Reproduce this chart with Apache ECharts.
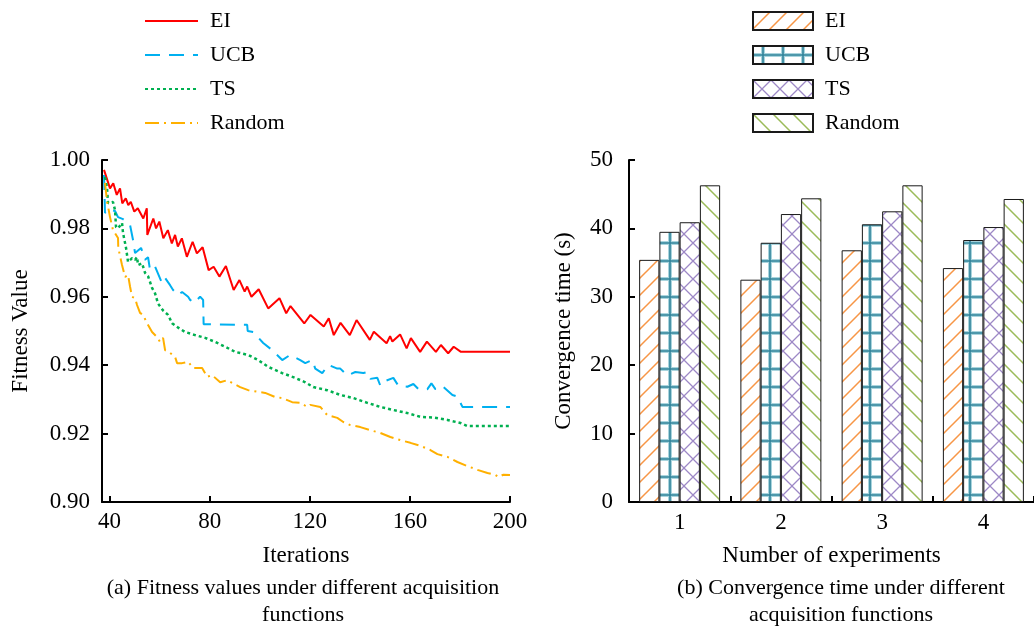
<!DOCTYPE html>
<html>
<head>
<meta charset="utf-8">
<script src="https://cdn.jsdelivr.net/npm/echarts@6/dist/echarts.min.js"></script>
<style>
  html, body { margin: 0; padding: 0; background: #fff; }
  #main { width: 1034px; height: 628px; }
</style>
</head>
<body>
<div id="main"></div>
<script type="text/javascript">
    // (a) fitness value vs iteration, pairs of [iteration, fitness]
    var eiData = [[37.8,0.9971],[40.2,0.9917],[41.5,0.9932],[42.9,0.9898],[44.2,0.9917],[45.1,0.9873],[46.5,0.9888],
        [47.5,0.9868],[48.5,0.9878],[49.9,0.9849],[51.3,0.9859],[53.5,0.9829],[54.9,0.9859],[55.1,0.9781],[57.5,0.9829],
        [58.6,0.9800],[59.9,0.9820],[61.5,0.9771],[63.3,0.9795],[64.9,0.9756],[66.2,0.9781],[67.3,0.9747],[68.9,0.9771],
        [70.9,0.9717],[73.2,0.9761],[74.9,0.9727],[77.2,0.9745],[79.6,0.9678],[81.6,0.9688],[83.9,0.9659],[86.5,0.9690],
        [89.6,0.9620],[91.9,0.9649],[94.0,0.9615],[95.0,0.9630],[96.7,0.9600],[99.6,0.9622],[103.4,0.9566],[107.9,0.9596],
        [110.6,0.9552],[112.3,0.9573],[117.8,0.9522],[120.3,0.9547],[125.6,0.9513],[127.6,0.9537],[129.6,0.9488],
        [132.3,0.9524],[136.0,0.9488],[138.7,0.9532],[144.0,0.9474],[145.6,0.9498],[150.7,0.9464],[152.1,0.9485],
        [153.0,0.9469],[156.1,0.9490],[158.7,0.9449],[160.4,0.9479],[164.1,0.9439],[166.8,0.9469],[170.4,0.9439],
        [172.4,0.9459],[175.3,0.9435],[177.5,0.9454],[180.4,0.9439],[200,0.9439]];
    var ucbData = [[37.8,0.9956],[38.2,0.9845],[39.4,0.9856],[42.2,0.9851],[43.4,0.9833],[45.4,0.9827],[47.0,0.9819],
        [48.2,0.9810],[49.4,0.9766],[50.2,0.9728],[52.6,0.9743],[54.2,0.9708],[55.4,0.9716],[56.2,0.9678],[58.2,0.9688],
        [61.0,0.9640],[62.2,0.9655],[64.2,0.9634],[65.4,0.9620],[67.4,0.9605],[69.0,0.9614],[71.4,0.9600],[72.2,0.9591],
        [73.8,0.9582],[76.2,0.9600],[77.4,0.9591],[77.6,0.9520],[95.0,0.9518],[95.2,0.9500],[97.4,0.9497],[101.4,0.9465],
        [105.0,0.9444],[109.0,0.9415],[112.2,0.9430],[116.2,0.9415],[118.2,0.9406],[121.0,0.9415],[122.2,0.9390],
        [125.0,0.9377],[127.4,0.9401],[131.0,0.9390],[132.2,0.9390],[135.0,0.9370],[138.2,0.9380],[141.4,0.9377],
        [143.0,0.9380],[144.2,0.9360],[147.0,0.9363],[148.2,0.9340],[150.2,0.9354],[153.4,0.9363],[155.4,0.9340],
        [159.0,0.9337],[161.4,0.9345],[163.4,0.9330],[167.0,0.9330],[168.6,0.9347],[170.2,0.9330],[173.0,0.9339],
        [177.0,0.9313],[179.0,0.9308],[181.0,0.9278],[200,0.9278]];
    var tsData = [[38.2,0.9950],[39.0,0.9920],[39.4,0.9874],[41.4,0.9877],[42.2,0.9854],[42.6,0.9804],[43.4,0.9800],
        [45.0,0.9816],[45.4,0.9787],[46.6,0.9743],[47.4,0.9702],[49.0,0.9713],[50.2,0.9708],[51.0,0.9716],[51.4,0.9693],
        [53.0,0.9698],[54.2,0.9670],[55.4,0.9660],[57.0,0.9626],[58.2,0.9610],[59.4,0.9580],[61.4,0.9560],[63.4,0.9547],
        [65.0,0.9523],[67.4,0.9510],[70.2,0.9497],[74.2,0.9488],[78.2,0.9480],[82.2,0.9468],[86.2,0.9454],[90.2,0.9439],
        [95.4,0.9430],[99.4,0.9415],[103.4,0.9395],[109.0,0.9377],[114.2,0.9363],[118.2,0.9350],[121.4,0.9336],
        [127.0,0.9327],[132.2,0.9313],[137.4,0.9304],[143.0,0.9290],[148.2,0.9278],[153.4,0.9269],[159.0,0.9260],
        [164.2,0.9249],[169.4,0.9247],[175.0,0.9240],[180.2,0.9231],[183.0,0.9222],[200,0.9222]];
    var randomData = [[38.2,0.9933],[39.0,0.9880],[40.2,0.9833],[41.4,0.9795],[43.4,0.9772],[43.5,0.9743],[45.0,0.9693],
        [46.2,0.9658],[47.4,0.9664],[48.2,0.9630],[49.0,0.9600],[50.2,0.9596],[51.0,0.9576],[52.2,0.9553],[53.4,0.9547],
        [55.0,0.9523],[57.0,0.9497],[59.0,0.9482],[60.2,0.9468],[61.4,0.9480],[62.2,0.9444],[64.2,0.9436],[66.2,0.9424],
        [67.0,0.9406],[69.0,0.9406],[71.4,0.9410],[73.4,0.9392],[77.0,0.9392],[79.0,0.9366],[81.0,0.9371],[84.2,0.9350],
        [87.0,0.9356],[89.0,0.9348],[92.2,0.9336],[95.4,0.9327],[99.4,0.9322],[102.2,0.9319],[106.2,0.9307],[109.0,0.9304],
        [113.0,0.9292],[116.2,0.9290],[119.0,0.9278],[120.2,0.9284],[124.2,0.9278],[127.0,0.9254],[131.0,0.9246],
        [133.4,0.9234],[136.2,0.9225],[140.2,0.9219],[144.2,0.9210],[148.2,0.9202],[152.2,0.9190],[156.2,0.9181],
        [160.2,0.9173],[164.2,0.9164],[168.2,0.9152],[171.0,0.9140],[175.0,0.9132],[179.0,0.9117],[183.0,0.9105],
        [187.0,0.9094],[191.0,0.9085],[194.2,0.9079],[195.4,0.9073],[197.4,0.9080],[200,0.9079]];
    var iterTicks = [40, 80, 120, 160, 200];

    // (b) convergence time per experiment
    var experiments = ['1', '2', '3', '4'];
    var eiTime = [35.4, 32.5, 36.8, 34.2];
    var ucbTime = [39.5, 37.9, 40.6, 38.3];
    var tsTime = [40.9, 42.1, 42.5, 40.2];
    var randomTime = [46.3, 44.4, 46.3, 44.3];

    var FONT = '"Liberation Serif", "Times New Roman", serif';

    //填充图案
    function makePattern(kind) {
        var c = document.createElement('canvas');
        var ctx;
        if (kind == 'ei') {
            c.width = 17; c.height = 17;
            ctx = c.getContext('2d');
            ctx.strokeStyle = '#f79646'; ctx.lineWidth = 1.5;
            ctx.beginPath();
            ctx.moveTo(-2, 19); ctx.lineTo(19, -2);
            ctx.moveTo(-2, 2); ctx.lineTo(2, -2);
            ctx.moveTo(15, 19); ctx.lineTo(19, 15);
            ctx.stroke();
        } else if (kind == 'ucb') {
            c.width = 20; c.height = 18;
            ctx = c.getContext('2d');
            ctx.strokeStyle = '#a9d4dd'; ctx.lineWidth = 4;
            ctx.beginPath();
            ctx.moveTo(10, 0); ctx.lineTo(10, 18);
            ctx.moveTo(0, 9); ctx.lineTo(20, 9);
            ctx.stroke();
            ctx.strokeStyle = '#31849b'; ctx.lineWidth = 1.6;
            ctx.beginPath();
            ctx.moveTo(10, 0); ctx.lineTo(10, 18);
            ctx.moveTo(0, 9); ctx.lineTo(20, 9);
            ctx.stroke();
        } else if (kind == 'ts') {
            c.width = 18; c.height = 18;
            ctx = c.getContext('2d');
            ctx.strokeStyle = '#9d88c6'; ctx.lineWidth = 1.3;
            ctx.beginPath();
            ctx.moveTo(-2, -2); ctx.lineTo(20, 20);
            ctx.moveTo(-2, 20); ctx.lineTo(20, -2);
            ctx.stroke();
        } else {
            c.width = 20; c.height = 20;
            ctx = c.getContext('2d');
            ctx.strokeStyle = '#9bbb59'; ctx.lineWidth = 1.5;
            ctx.beginPath();
            ctx.moveTo(-2, -2); ctx.lineTo(22, 22);
            ctx.moveTo(18, -2); ctx.lineTo(22, 2);
            ctx.moveTo(-2, 18); ctx.lineTo(2, 22);
            ctx.stroke();
        }
        return { image: c, repeat: 'repeat' };
    }

    function lineSeries(name, data, color, width, dash) {
        return {
            name: name, type: 'line', xAxisIndex: 0, yAxisIndex: 0,
            data: data, symbol: 'none', animation: false,
            lineStyle: { color: color, width: width, type: dash },
            itemStyle: { color: color }
        };
    }

    function barSeries(name, data, kind) {
        return {
            name: name + ' (b)', type: 'bar', xAxisIndex: 1, yAxisIndex: 1,
            data: data, barGap: 0, barCategoryGap: '20%', animation: false,
            itemStyle: { color: makePattern(kind), borderColor: '#1a1a1a', borderWidth: 1 }
        };
    }

    var axisLine = { show: true, lineStyle: { color: '#000', width: 2 } };
    var axisTick = { show: true, inside: true, length: 6, lineStyle: { color: '#000', width: 2 } };
    var labelStyle = { color: '#000', fontSize: 23, fontFamily: FONT };
    var nameStyle = { color: '#000', fontSize: 23, fontFamily: FONT };
    var captionStyle = { color: '#000', fontSize: 22, fontWeight: 'normal', fontFamily: FONT, lineHeight: 27 };

    var myChart = echarts.init(document.getElementById('main'));
    var option = {
        backgroundColor: '#fff',
        animation: false,
        title: [
            { text: '(a) Fitness values under different acquisition\nfunctions', left: 298, top: 570,
              textAlign: 'center', textStyle: captionStyle },
            { text: '(b) Convergence time under different\nacquisition functions', left: 836, top: 570,
              textAlign: 'center', textStyle: captionStyle }
        ],
        legend: [
            { orient: 'vertical', left: 139, top: 5, itemWidth: 53, itemHeight: 14, itemGap: 12,
              data: ['EI', 'UCB', 'TS', 'Random'],
              itemStyle: { opacity: 0 },
              textStyle: { color: '#000', fontSize: 22, fontFamily: FONT, padding: [0, 0, 0, 7] } },
            { orient: 'vertical', left: 747, top: 5, itemWidth: 60, itemHeight: 18, itemGap: 12, icon: 'rect',
              data: ['EI (b)', 'UCB (b)', 'TS (b)', 'Random (b)'],
              formatter: function (n) { return n.replace(' (b)', ''); },
              textStyle: { color: '#000', fontSize: 22, fontFamily: FONT, padding: [0, 0, 0, 7] } }
        ],
        grid: [
            { left: 102, top: 160, width: 408, height: 342 },
            { left: 629, top: 160, width: 408, height: 342 }
        ],
        xAxis: [
            { type: 'value', gridIndex: 0, min: 37, max: 200, name: 'Iterations', nameLocation: 'middle', nameGap: 42,
              nameTextStyle: nameStyle, axisLine: axisLine, splitLine: { show: false },
              axisTick: Object.assign({ customValues: iterTicks }, axisTick),
              axisLabel: Object.assign({ customValues: iterTicks, margin: 8 }, labelStyle) },
            { type: 'category', gridIndex: 1, data: experiments, name: 'Number of experiments', nameLocation: 'middle',
              nameGap: 42, nameTextStyle: nameStyle, axisLine: axisLine, axisTick: axisTick,
              axisLabel: Object.assign({ margin: 9 }, labelStyle) }
        ],
        yAxis: [
            { type: 'value', gridIndex: 0, min: 0.9, max: 1.0, interval: 0.02, name: 'Fitness Value',
              nameLocation: 'middle', nameGap: 70, nameTextStyle: nameStyle, axisLine: axisLine, axisTick: axisTick,
              splitLine: { show: false },
              axisLabel: Object.assign({ margin: 12, formatter: function (v) { return v.toFixed(2); } }, labelStyle) },
            { type: 'value', gridIndex: 1, min: 0, max: 50, interval: 10, name: 'Convergence time (s)',
              nameLocation: 'middle', nameGap: 54, nameTextStyle: nameStyle, axisLine: axisLine, axisTick: axisTick,
              splitLine: { show: false }, axisLabel: Object.assign({ margin: 16 }, labelStyle) }
        ],
        series: [
            lineSeries('EI', eiData, '#ff0000', 2, 'solid'),
            lineSeries('UCB', ucbData, '#00b0f0', 2, [15, 9]),
            lineSeries('TS', tsData, '#00b050', 2.5, [3, 3]),
            lineSeries('Random', randomData, '#ffb000', 2, [14, 5, 2, 5]),
            barSeries('EI', eiTime, 'ei'),
            barSeries('UCB', ucbTime, 'ucb'),
            barSeries('TS', tsTime, 'ts'),
            barSeries('Random', randomTime, 'random')
        ]
    };
    myChart.setOption(option);
</script>
</body>
</html>
